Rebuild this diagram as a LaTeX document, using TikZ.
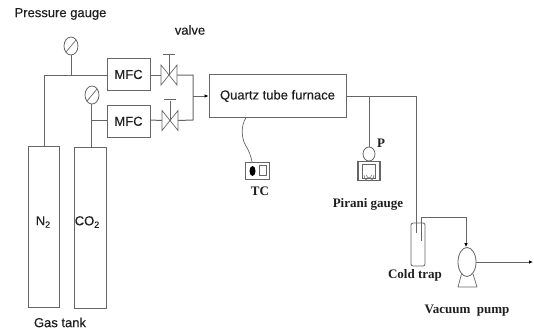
\documentclass[tikz,border=0pt]{standalone}
\usepackage{fontspec}
\setmainfont{Liberation Serif}
\setsansfont[FakeBold=0.2]{Liberation Sans}
\usetikzlibrary{shapes.geometric,arrows.meta,calc}
\definecolor{ln}{gray}{0.4}
\newcommand{\sub}[1]{\raisebox{-2.5pt}{\fontsize{9}{9}\selectfont #1}}
\tikzset{
  conn/.style={draw=ln,line width=1pt},
  flow/.style={conn,-{Latex[length=4pt,width=3.5pt,black]}},
  boxn/.style={draw=ln,line width=0.8pt,inner sep=0pt,minimum width=#1},
  sanslab/.style={font=\sffamily\fontsize{13}{14}\selectfont,inner sep=0pt,text=black!88},
  seriflab/.style={font=\bfseries\fontsize{13}{14}\selectfont,inner sep=0pt,text=black!88},
  gaugeb/.style={ellipse,draw=ln,line width=0.8pt,fill=white,inner sep=0pt,minimum width=14pt,minimum height=18pt},
  thin line/.style={draw=ln,line width=0.7pt},
}
\newcommand{\mkvalve}[3]{% name, x, y
  \coordinate (#1) at (#2,#3);
  \coordinate (#1L) at (#2-8,#3);
  \coordinate (#1R) at (#2+8,#3);
  \coordinate (#1S) at (#2,#3-20);
  \draw[thin line] (#2-8,#3-10) -- (#2+8,#3+10) -- (#2+8,#3-10) -- (#2-8,#3+10) -- cycle;
  \draw[thin line] (#1) -- (#1S);
  \draw[thin line] (#2-6,#3-21) -- (#2+6,#3-21);
}
\begin{document}
\begin{tikzpicture}[x=1pt,y=-1pt]
\useasboundingbox (0,0) rectangle (534,329);
\fill[white] (0,0) rectangle (534,329);
% tanks
\node[boxn=31.5pt,minimum height=161.5pt,sanslab] (n2) at (43.75,226.8) {};
\node[boxn=32pt,minimum height=161pt,sanslab] (co2) at (90,227.5) {};
\node[sanslab] at (43,222) {N\sub{2}};
\node[sanslab] at (87,222) {CO\sub{2}};
% MFCs
\node[boxn=43pt,minimum height=32pt,sanslab] (m1) at (128.5,74.5) {MFC};
\node[boxn=43pt,minimum height=32pt,sanslab] (m2) at (128.5,121.3) {MFC};
% furnace
\node[boxn=137pt,minimum height=42.5pt,sanslab] (f) at (277.5,96) {Quartz tube furnace};
% junctions
\coordinate (j1) at (44,75);
\coordinate (j2) at (71,75);
\coordinate (j3) at (91,120);
\coordinate (j4) at (193,75);
\coordinate (j5) at (193,120);
\coordinate (j6) at (193,96);
% gauges
\node[gaugeb] (g1) at (71,46) {};
\draw[thin line] (66,52) -- (76,40);
\node[gaugeb] (g2) at (92,95) {};
\draw[thin line] (87,101) -- (97,89);
% valves
\mkvalve{v1}{169}{75}
\mkvalve{v2}{170}{120.5}
% gas lines
\draw[conn] (n2.north -| j1) -- (j1) -- (m1.west |- j1);
\draw[conn] (g1.south) -- (j2);
\draw[conn] (co2.north -| j3) -- (j3) -- (m2.west |- j3);
\draw[conn] (g2.south -| j3) -- (j3);
\draw[conn] (m1.east |- j1) -- (v1L);
\draw[conn] (v1R) -- (j4) -- (j5) -- (v2R);
\draw[conn] (m2.east |- j3) -- (v2L);
\draw[flow] (j6) -- (f.west |- j6);
% TC
\node[draw=ln,line width=1.5pt,fill=white,minimum width=24pt,minimum height=17pt,inner sep=0pt] (tc) at (257.5,171) {};
\fill[black] (252.5,171) ellipse (3pt and 5pt);
\draw[ln,line width=0.6pt] (259,165.5) rectangle (266,175.5);
\draw[thin line] (246,117.5) .. controls (240,127) and (242,140) .. (246,146) .. controls (249,151) and (251,156) .. (252,162);
\node[seriflab] at (260,191) {TC};
% main exhaust
\coordinate (e1) at (369,96);
\coordinate (e2) at (416,96);
\coordinate (e3) at (416,233);
\draw[conn] (f.east |- e1) -- (e2) -- (e3);
% Pirani
\node[ellipse,draw=ln,line width=0.8pt,fill=white,inner sep=0pt,minimum width=12pt,minimum height=14pt] (pg) at (369,154) {};
\draw[conn] (e1) -- (pg.north);
\node[draw=ln,line width=1.5pt,fill=white,minimum width=22pt,minimum height=19pt,inner sep=0pt] (pb) at (369,171) {};
\draw[ln,line width=0.5pt] (362.5,164) rectangle (375.5,178);
\draw[ln,line width=0.6pt] (364,175) arc (180:0:5 and 6);
\draw[ln,line width=0.6pt] (366.5,175) arc (180:0:2.5 and 3);
\node[seriflab] at (381,143) {P};
\node[seriflab] at (368,204) {Pirani gauge};
% cold trap
\node[draw=ln,line width=0.8pt,rounded corners=2pt,minimum width=14pt,minimum height=43pt,inner sep=0pt] (ct) at (418,244.5) {};
\coordinate (t1) at (421,241);
\coordinate (t2) at (421,217);
\coordinate (t3) at (466,217);
% pump
\node[ellipse,draw=ln,line width=0.8pt,inner sep=0pt,minimum width=18pt,minimum height=29pt] (pu) at (467,262) {};
\draw[thin line] (461.5,274) -- (458,287) -- (477,287) -- (473,274);
\draw[flow] (t1) -- (t2) -- (t3) -- (t3 |- pu.north);
\coordinate (out) at (533,262);
\draw[flow] (pu.east) -- (out);
\node[seriflab] at (415,275) {Cold trap};
\node[seriflab] at (467,311) {Vacuum\ \ pump};
% labels
\node[sanslab] at (60.5,14) {Pressure gauge};
\node[sanslab] at (190,30) {valve};
\node[sanslab] at (60,322.5) {Gas tank};
\end{tikzpicture}
\end{document}
